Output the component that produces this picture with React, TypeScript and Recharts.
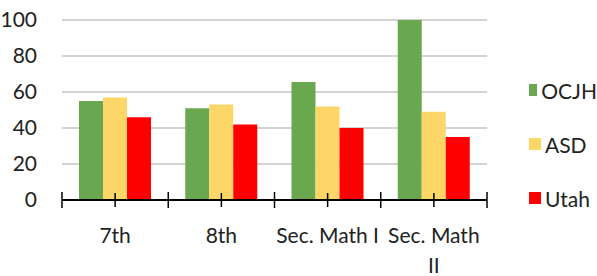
import { BarChart, Bar, XAxis, YAxis, CartesianGrid, Legend } from 'recharts'

const categories = ['7th', '8th', 'Sec. Math I', 'Sec. Math II']
const ocjh = [55, 51, 65.5, 100]
const asd = [57, 53, 52, 49]
const utah = [46, 42, 40, 35]
const yTicks = [0, 20, 40, 60, 80, 100]

const seriesNames = ['OCJH', 'ASD', 'Utah']
const colors = ['#6aa84f', '#fdd668', '#fe0000']

const W = 597
const H = 276
const LEGEND_W = 110
const M = { top: 20, right: 0, bottom: 0, left: 0 }
const Y_W = 62
const X_H = 76
const PLOT_L = M.left + Y_W
const PLOT_R = W - M.right - LEGEND_W
const PLOT_B = H - M.bottom - X_H
const HALF = (PLOT_R - PLOT_L) / categories.length / 2

const FONT = 'Lato, "Open Sans", sans-serif'
const LABEL_MAX = HALF * 2 - 1

let ctx: CanvasRenderingContext2D | null = null
function measure(s: string) {
  if (!ctx) ctx = document.createElement('canvas').getContext('2d')
  if (!ctx) return s.length * 9
  ctx.font = `21px ${FONT}`
  return ctx.measureText(s).width
}

// greedy word wrap, like Excel does for axis labels
function wrap(label: string) {
  const lines: string[] = []
  let cur = ''
  label.split(' ').forEach(w => {
    const next = cur ? `${cur} ${w}` : w
    if (cur && measure(next) > LABEL_MAX) {
      lines.push(cur)
      cur = w
    } else cur = next
  })
  lines.push(cur)
  return lines
}

const data = categories.map((c, i) => ({
  name: c,
  OCJH: ocjh[i],
  ASD: asd[i],
  Utah: utah[i],
}))

function XTick(props: any) {
  const { x, payload, index } = props
  const lines = wrap(String(payload.value))
  return (
    <g>
      <line x1={x} x2={x} y1={PLOT_B - 7} y2={PLOT_B + 7} stroke="#000" strokeWidth={1.5} />
      <line x1={x - HALF} x2={x - HALF} y1={PLOT_B - 8} y2={PLOT_B + 8} stroke="#000" strokeWidth={1.5} />
      {index === categories.length - 1 && (
        <line x1={x + HALF} x2={x + HALF} y1={PLOT_B - 8} y2={PLOT_B + 8} stroke="#000" strokeWidth={1.5} />
      )}
      <text x={x} y={PLOT_B + 43} textAnchor="middle" fill="#222" fontSize={21} fontFamily={FONT}>
        {lines.map((l, i) => (
          <tspan key={i} x={x} dy={i === 0 ? 0 : 30}>{l}</tspan>
        ))}
      </text>
    </g>
  )
}

function LegendContent() {
  return (
    <div style={{ fontFamily: FONT, fontSize: 21, color: '#222', paddingLeft: 42 }}>
      {seriesNames.map((n, i) => (
        <div key={n} style={{ display: 'flex', alignItems: 'center', height: 54 }}>
          <span style={{ width: 12, height: 12, background: colors[i], marginRight: 4, display: 'inline-block' }} />
          <span>{n}</span>
        </div>
      ))}
    </div>
  )
}

export default function App() {
  return (
    <div style={{ position: 'absolute', left: 0, top: 0, width: W, height: H, background: '#fff' }}>
      <BarChart width={W} height={H} data={data} margin={M} barCategoryGap="16%" barGap={0}>
        <CartesianGrid vertical={false} stroke="#c4c4c4" strokeWidth={1.5} />
        <XAxis
          dataKey="name"
          height={X_H}
          axisLine={{ stroke: '#000', strokeWidth: 2 }}
          tickLine={false}
          tick={<XTick />}
          interval={0}
        />
        <YAxis
          width={Y_W}
          domain={[0, 100]}
          ticks={yTicks}
          axisLine={false}
          tickLine={false}
          tickMargin={19}
          tick={{ fill: '#222', fontSize: 21, fontFamily: FONT }}
        />
        <Legend
          layout="vertical"
          align="right"
          verticalAlign="middle"
          content={<LegendContent />}
          wrapperStyle={{ width: LEGEND_W, right: 0, top: 63 }}
        />
        {seriesNames.map((n, i) => (
          <Bar key={n} dataKey={n} fill={colors[i]} isAnimationActive={false} />
        ))}
      </BarChart>
    </div>
  )
}
